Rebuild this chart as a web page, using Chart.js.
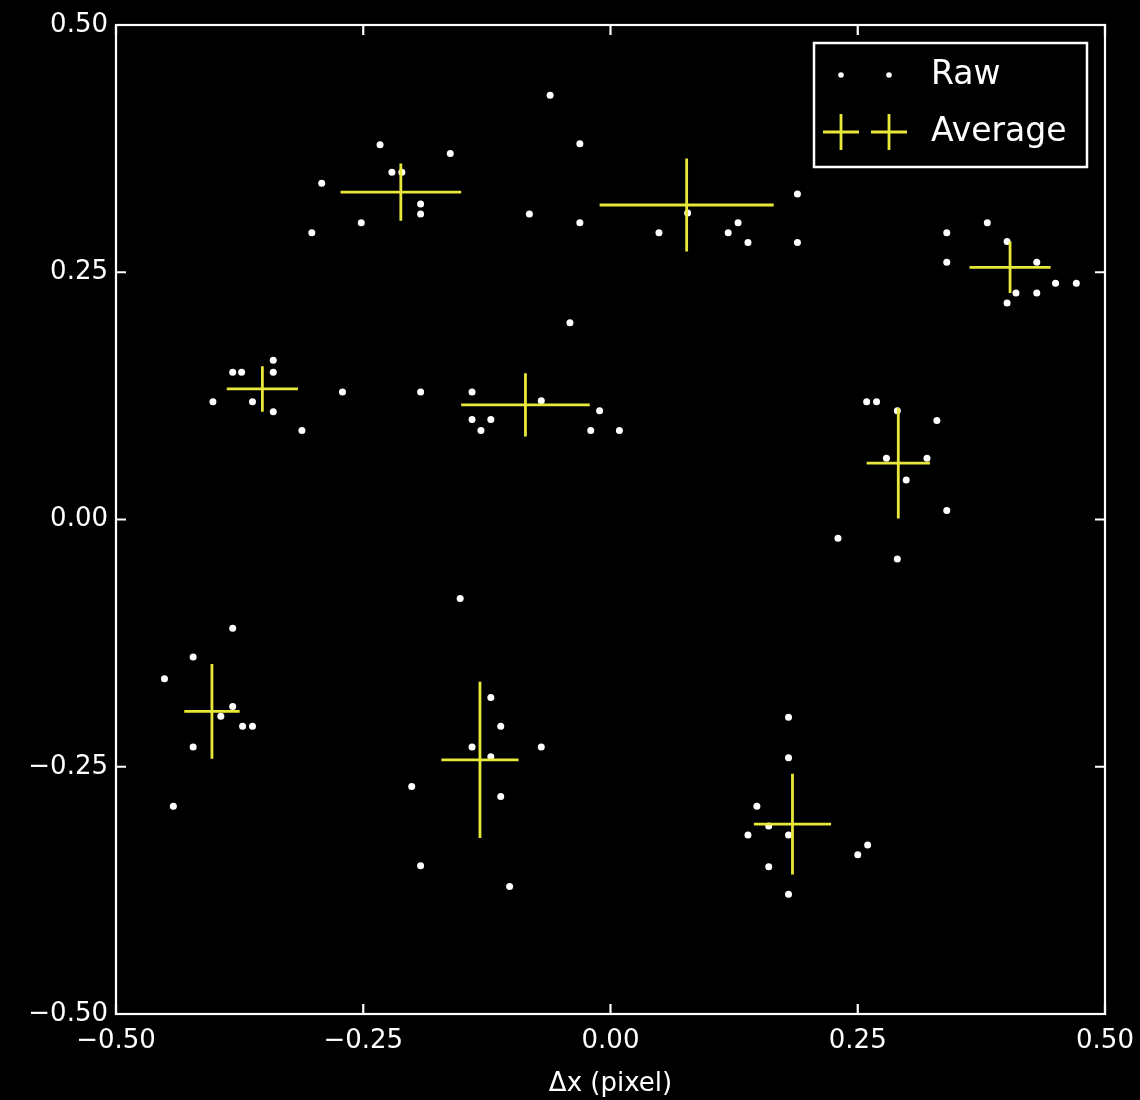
<!DOCTYPE html>
<html>
<head>
<meta charset="utf-8">
<script src="https://cdn.jsdelivr.net/npm/chart.js@4"></script>
<style>
  html, body { margin: 0; padding: 0; background: #000; }
  #wrap { width: 1140px; height: 1100px; }
</style>
</head>
<body>
<div id="wrap"><canvas id="myChart" width="1140" height="1100"></canvas></div>
<script>
// raw offsets (pixel)
const rawX = [
  -0.233, -0.162, -0.221, -0.211, -0.292, -0.192, -0.192, -0.252, -0.302,
  -0.341, -0.382, -0.373, -0.341, -0.402, -0.362, -0.341, -0.312,
  -0.140, -0.070, -0.140, -0.121, -0.131, -0.011, -0.020, 0.009, -0.041, -0.271, -0.192,
  -0.061, -0.031, -0.082, -0.031, 0.078, 0.049, 0.129, 0.119, 0.139, 0.189, 0.189,
  0.381, 0.340, 0.401, 0.340, 0.431, 0.410, 0.431, 0.401, 0.450, 0.471,
  0.259, 0.269, 0.290, 0.330, 0.279, 0.320, 0.299, 0.340, 0.230, 0.290,
  -0.382, -0.422, -0.451, -0.382, -0.394, -0.372, -0.362, -0.422, -0.442, -0.201,
  -0.152, -0.121, -0.111, -0.140, -0.121, -0.070, -0.111, -0.192, -0.102,
  0.180, 0.180, 0.148, 0.160, 0.139, 0.180, 0.160, 0.180, 0.260, 0.250
];
const rawY = [
  0.379, 0.370, 0.351, 0.351, 0.340, 0.319, 0.309, 0.300, 0.290,
  0.161, 0.149, 0.149, 0.149, 0.119, 0.119, 0.109, 0.090,
  0.129, 0.120, 0.101, 0.101, 0.090, 0.110, 0.090, 0.090, 0.199, 0.129, 0.129,
  0.429, 0.380, 0.309, 0.300, 0.310, 0.290, 0.300, 0.290, 0.280, 0.329, 0.280,
  0.300, 0.290, 0.281, 0.260, 0.260, 0.229, 0.229, 0.219, 0.239, 0.239,
  0.119, 0.119, 0.110, 0.100, 0.062, 0.062, 0.040, 0.009, -0.019, -0.040,
  -0.110, -0.139, -0.161, -0.189, -0.199, -0.209, -0.209, -0.230, -0.290, -0.270,
  -0.080, -0.180, -0.209, -0.230, -0.240, -0.230, -0.280, -0.350, -0.371,
  -0.200, -0.241, -0.290, -0.310, -0.319, -0.319, -0.351, -0.379, -0.329, -0.339
];

// averages with spread
const avgX = [-0.212, -0.352, -0.086, 0.077, 0.404, 0.291, -0.403, -0.132, 0.184];
const avgY = [0.331, 0.132, 0.116, 0.318, 0.255, 0.057, -0.194, -0.243, -0.308];
const avgXErr = [0.061, 0.036, 0.065, 0.088, 0.041, 0.032, 0.028, 0.039, 0.039];
const avgYErr = [0.029, 0.023, 0.032, 0.047, 0.026, 0.056, 0.048, 0.079, 0.051];

const xTicks = [-0.5, -0.25, 0, 0.25, 0.5];
const yTicks = [-0.5, -0.25, 0, 0.25, 0.5];

const YELLOW = '#e8e83a';
const FONT = "'DejaVu Sans', sans-serif";

function fmt(v) {
  const s = Math.abs(v).toFixed(2);
  return v < 0 ? '\u2212' + s : s;
}

const rawData = rawX.map((x, i) => ({ x: x, y: rawY[i] }));
const avgData = avgX.map((x, i) => ({ x: x, y: avgY[i], xe: avgXErr[i], ye: avgYErr[i] }));

// draws background, error bars, frame, inward ticks and legend
const mplLook = {
  id: 'mplLook',
  beforeDraw(chart) {
    const ctx = chart.ctx;
    ctx.save();
    ctx.fillStyle = '#000';
    ctx.fillRect(0, 0, chart.width, chart.height);
    ctx.restore();
  },
  afterDatasetsDraw(chart) {
    const ctx = chart.ctx;
    const xs = chart.scales.x, ys = chart.scales.y;
    const a = chart.chartArea;

    // error bars for the averages
    ctx.save();
    ctx.strokeStyle = YELLOW;
    ctx.lineWidth = 2.8;
    avgData.forEach(p => {
      const cx = xs.getPixelForValue(p.x), cy = ys.getPixelForValue(p.y);
      ctx.beginPath();
      ctx.moveTo(xs.getPixelForValue(p.x - p.xe), cy);
      ctx.lineTo(xs.getPixelForValue(p.x + p.xe), cy);
      ctx.moveTo(cx, ys.getPixelForValue(p.y - p.ye));
      ctx.lineTo(cx, ys.getPixelForValue(p.y + p.ye));
      ctx.stroke();
    });
    ctx.restore();

    // frame + inward ticks
    ctx.save();
    ctx.strokeStyle = '#fff';
    ctx.lineWidth = 2.2;
    ctx.strokeRect(a.left, a.top, a.right - a.left, a.bottom - a.top);
    ctx.beginPath();
    xTicks.forEach(t => {
      const px = xs.getPixelForValue(t);
      ctx.moveTo(px, a.bottom); ctx.lineTo(px, a.bottom - 10);
      ctx.moveTo(px, a.top); ctx.lineTo(px, a.top + 10);
    });
    yTicks.forEach(t => {
      const py = ys.getPixelForValue(t);
      ctx.moveTo(a.left, py); ctx.lineTo(a.left + 10, py);
      ctx.moveTo(a.right, py); ctx.lineTo(a.right - 10, py);
    });
    ctx.stroke();
    ctx.restore();

    // legend
    ctx.save();
    const lx = 814, ly = 43, lw = 273, lh = 124;
    ctx.fillStyle = '#000';
    ctx.fillRect(lx, ly, lw, lh);
    ctx.strokeStyle = '#fff';
    ctx.lineWidth = 2.5;
    ctx.strokeRect(lx, ly, lw, lh);
    ctx.fillStyle = '#fff';
    [841, 889].forEach(x => {
      ctx.beginPath();
      ctx.arc(x, 75, 2.8, 0, Math.PI * 2);
      ctx.fill();
    });
    ctx.strokeStyle = YELLOW;
    ctx.lineWidth = 2.8;
    ctx.beginPath();
    [841, 889].forEach(x => {
      ctx.moveTo(x - 18, 132); ctx.lineTo(x + 18, 132);
      ctx.moveTo(x, 114); ctx.lineTo(x, 150);
    });
    ctx.stroke();
    ctx.fillStyle = '#fff';
    ctx.font = '33px ' + FONT;
    ctx.textBaseline = 'middle';
    ctx.textAlign = 'left';
    ctx.fillText('Raw', 931, 75);
    ctx.fillText('Average', 931, 132);

    // y label, mostly outside the picture like the original
    ctx.translate(-14, (a.top + a.bottom) / 2);
    ctx.rotate(-Math.PI / 2);
    ctx.textAlign = 'center';
    ctx.font = '26px ' + FONT;
    ctx.fillText('\u0394y (pixel)', 0, 0);
    ctx.restore();
  }
};

const ctx = document.getElementById('myChart').getContext('2d');
const myChart = new Chart(ctx, {
  type: 'scatter',
  data: {
    datasets: [
      {
        label: 'Raw',
        data: rawData,
        backgroundColor: '#fff',
        borderColor: '#fff',
        borderWidth: 0,
        pointRadius: 3.5,
        pointHoverRadius: 3.5
      },
      {
        label: 'Average',
        data: avgData,
        pointRadius: 0,
        pointHoverRadius: 0,
        backgroundColor: YELLOW,
        borderColor: YELLOW
      }
    ]
  },
  options: {
    responsive: false,
    animation: false,
    events: [],
    layout: { padding: { top: 25, right: 35, left: 0, bottom: 0 } },
    plugins: {
      legend: { display: false },
      tooltip: { enabled: false }
    },
    scales: {
      x: {
        type: 'linear',
        min: -0.5,
        max: 0.5,
        afterFit: s => { s.height = 86; s.paddingLeft = 0; s.paddingRight = 0; },
        afterBuildTicks: s => { s.ticks = xTicks.map(v => ({ value: v })); },
        grid: { display: false, drawTicks: false },
        border: { display: false },
        ticks: {
          color: '#fff',
          font: { family: FONT, size: 26 },
          padding: 12,
          maxRotation: 0,
          callback: v => fmt(v)
        },
        title: {
          display: true,
          text: '\u0394x (pixel)',
          color: '#fff',
          font: { family: FONT, size: 26 },
          padding: { top: 2, bottom: 0 }
        }
      },
      y: {
        type: 'linear',
        min: -0.5,
        max: 0.5,
        afterFit: s => { s.width = 116; s.paddingTop = 0; s.paddingBottom = 0; },
        afterBuildTicks: s => { s.ticks = yTicks.map(v => ({ value: v })); },
        grid: { display: false, drawTicks: false },
        border: { display: false },
        ticks: {
          color: '#fff',
          font: { family: FONT, size: 26 },
          padding: 8,
          callback: v => fmt(v)
        }
      }
    }
  },
  plugins: [mplLook]
});
</script>
</body>
</html>
